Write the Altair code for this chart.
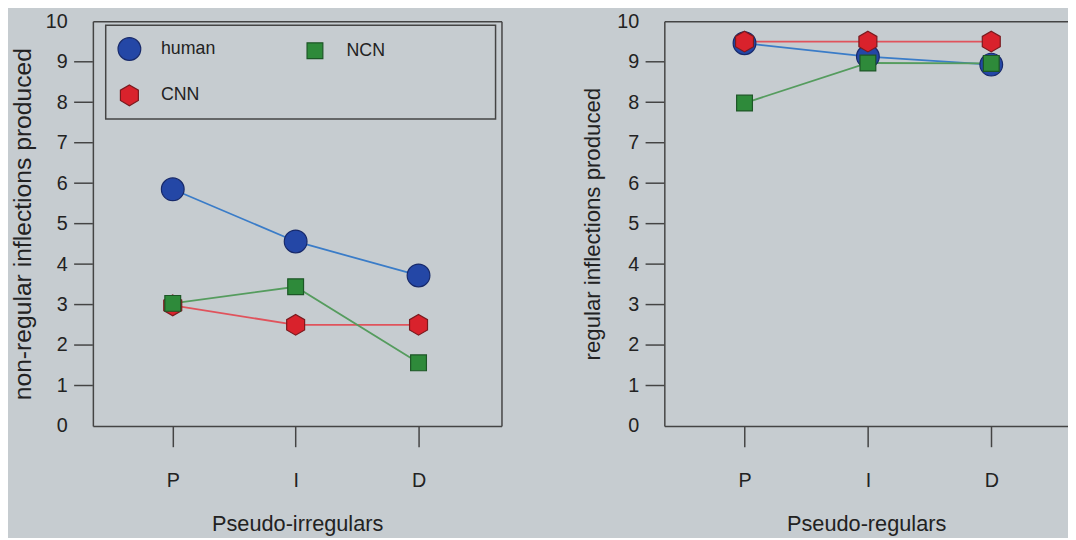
import altair as alt
import pandas as pd

# ---------------- data ----------------
conditions = ["P", "I", "D"]
cond_pos = [1, 2, 3]
series_names = ["human", "CNN", "NCN"]
legend_order = ["human", "CNN", "NCN"]

irregular_human = [5.85, 4.56, 3.72]
irregular_cnn = [2.98, 2.50, 2.50]
irregular_ncn = [3.03, 3.44, 1.56]

regular_human = [9.46, 9.13, 8.93]
regular_cnn = [9.50, 9.50, 9.50]
regular_ncn = [7.98, 8.97, 8.96]

y_label_values = [0, 1, 2, 3, 4, 5, 6, 7, 8, 9, 10]
y_tick_values = [1, 2, 3, 4, 5, 6, 7, 8, 9]


def frame(h, c, n):
    rows = []
    for name, vals in zip(series_names, [h, c, n]):
        for pos, cond, v in zip(cond_pos, conditions, vals):
            rows.append({"series": name, "pos": pos, "cond": cond, "value": v})
    return pd.DataFrame(rows)


df_irr = frame(irregular_human, irregular_cnn, irregular_ncn)
df_reg = frame(regular_human, regular_cnn, regular_ncn)
df_ticks = pd.DataFrame({"v": y_tick_values})

# ---------------- styles ----------------
BG = "#c6ccd0"
INK = "#222222"
BOX = "#444444"
FONT = "Liberation Sans"

fill_map = {"human": "#2447a6", "NCN": "#2e8a3a", "CNN": "#d9222c"}
stroke_map = {"human": "#17296a", "NCN": "#1c5626", "CNN": "#7a1a1e"}
line_map = {"human": "#3a7cc8", "NCN": "#559c5e", "CNN": "#e0535c"}
shape_map = {
    "human": "M0.96,0A0.96,0.96 0 1,1 -0.96,0A0.96,0.96 0 1,1 0.96,0Z",
    "NCN": "M-0.667,-0.667L0.667,-0.667L0.667,0.667L-0.667,0.667Z",
    "CNN": "M0,-0.875L0.758,-0.4375L0.758,0.4375L0,0.875L-0.758,0.4375L-0.758,-0.4375Z",
}
line_domain = ["CNN", "NCN", "human"]

x_label_expr = "[" + ",".join("'%s'" % c for c in conditions) + "][datum.value - 1]"
# trailing non-breaking spaces (closed by a zero-width space so they are not trimmed)
# widen the legend frame to the right, as in the original
spacer = "\u00a0" * 20 + "\u200b"
legend_label_expr = "datum.label == 'NCN' ? datum.label + '%s' : datum.label" % spacer


def panel(df, xdom, width, xtitle, ytitle, ytitle_size, ytitle_pad, show_legend):
    yscale = alt.Scale(domain=[0, 10])
    xscale = alt.Scale(domain=xdom, nice=False, zero=False)

    if show_legend:
        leg = alt.Legend(
            orient="none", legendX=13, legendY=4, columns=2,
            columnPadding=87, rowPadding=20, padding=11,
            strokeColor=BOX, symbolSize=576, symbolStrokeWidth=1.2,
            labelFont=FONT, labelFontSize=18, labelColor=INK, labelOffset=19,
            labelExpr=legend_label_expr, title=None,
        )
    else:
        leg = None

    # right-side frame line only on the left panel
    right_axis = alt.Axis(orient="right", domain=show_legend, ticks=False, labels=False,
                          grid=False, title=None, domainColor=BOX, domainWidth=1.5)

    lines = alt.Chart(df).mark_line(strokeWidth=1.8).encode(
        x=alt.X("pos:Q", scale=xscale,
                axis=alt.Axis(orient="top", domain=True, ticks=False, labels=False,
                              grid=False, title=None, domainColor=BOX, domainWidth=1.5)),
        y=alt.Y("value:Q", scale=yscale, axis=right_axis),
        color=alt.Color("series:N",
                        scale=alt.Scale(domain=line_domain,
                                        range=[line_map[s] for s in line_domain]),
                        legend=None),
        detail="series:N",
    )

    points = alt.Chart(df).mark_point(filled=True, opacity=1, strokeWidth=1.2, size=576).encode(
        x=alt.X("pos:Q", scale=xscale,
                axis=alt.Axis(orient="bottom", values=cond_pos, labelExpr=x_label_expr,
                              tickSize=21, tickWidth=1.5, tickColor=BOX,
                              labelPadding=24, labelFontSize=20, labelFont=FONT,
                              labelColor=INK, grid=False, domain=True,
                              domainColor=BOX, domainWidth=1.5,
                              title=xtitle, titleFontSize=22, titleFont=FONT,
                              titleFontWeight="normal", titleColor=INK,
                              titlePadding=24)),
        y=alt.Y("value:Q", scale=yscale,
                axis=alt.Axis(orient="left", values=y_label_values, ticks=False,
                              labelPadding=26, labelFontSize=20, labelFont=FONT,
                              labelColor=INK, grid=False, domain=True,
                              domainColor=BOX, domainWidth=1.5,
                              title=ytitle, titleFontSize=ytitle_size, titleFont=FONT,
                              titleFontWeight="normal", titleColor=INK,
                              titlePadding=ytitle_pad)),
        fill=alt.Fill("series:N",
                      scale=alt.Scale(domain=legend_order,
                                      range=[fill_map[s] for s in legend_order]),
                      legend=leg),
        stroke=alt.Stroke("series:N",
                          scale=alt.Scale(domain=legend_order,
                                          range=[stroke_map[s] for s in legend_order]),
                          legend=leg),
        shape=alt.Shape("series:N",
                        scale=alt.Scale(domain=legend_order,
                                        range=[shape_map[s] for s in legend_order]),
                        legend=leg),
    )

    ticks = alt.Chart(df_ticks).mark_rule(stroke=BOX, strokeWidth=1.5).encode(
        y=alt.Y("v:Q", scale=yscale, axis=None),
        x=alt.value(-19),
        x2=alt.value(0),
    )

    return alt.layer(ticks, lines, points).properties(width=width, height=410)


left = panel(df_irr, [0.35, 3.675], 414, "Pseudo-irregulars",
             "non-regular inflections produced", 25, 10, True)
right = panel(df_reg, [0.35, 0.35 + 409 / 125.0], 409, "Pseudo-regulars",
              "regular inflections produced", 22.5, 12, False)

chart = alt.hconcat(left, right, spacing=81).resolve_scale(
    x="independent", y="independent",
    fill="independent", stroke="independent", shape="independent", color="independent"
).properties(
    padding={"left": 2, "top": 0, "right": 0, "bottom": 0},
    background=BG,
).configure_view(stroke=None).configure_legend(strokeWidth=1.5)

chart.save("out.html", embed_options={"renderer": "svg", "actions": False})
